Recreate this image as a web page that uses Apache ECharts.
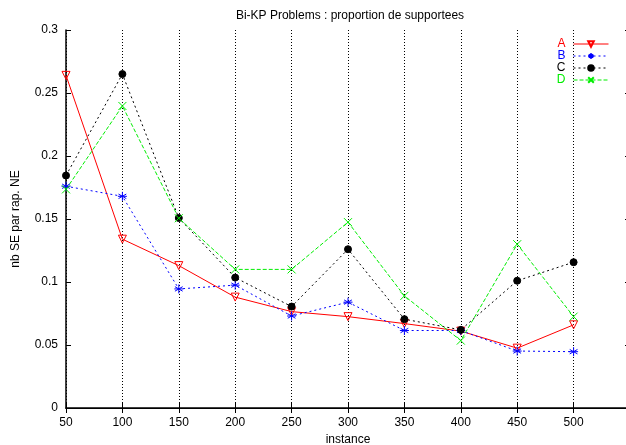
<!DOCTYPE html>
<html>
<head>
<meta charset="utf-8">
<title>Bi-KP Problems</title>
<script src="https://cdn.jsdelivr.net/npm/echarts@6/dist/echarts.min.js"></script>
<style>
  html, body { margin: 0; padding: 0; background: #fff; }
  #main { width: 626px; height: 445px; }
</style>
</head>
<body>
<div id="main"></div>
<script>
// values
var instances = [50, 100, 150, 200, 250, 300, 350, 400, 450, 500];
var serieA = [0.264, 0.134, 0.113, 0.088, 0.0765, 0.0725, 0.067, 0.061, 0.0475, 0.066];
var serieB = [0.176, 0.168, 0.0945, 0.0975, 0.073, 0.084, 0.0615, 0.0615, 0.0452, 0.0447];
var serieC = [0.1845, 0.265, 0.1508, 0.1035, 0.0805, 0.126, 0.0705, 0.062, 0.101, 0.1157];
var serieD = [0.1735, 0.2397, 0.1506, 0.110, 0.110, 0.1475, 0.089, 0.0535, 0.13, 0.0725];

var FONT = '"Liberation Sans", Arial, sans-serif';
var ASTER = 'path://M0,-5L0,5M-4.3,-2.5L4.3,2.5M-4.3,2.5L4.3,-2.5M-5,0L5,0';
var CROSS = 'path://M-4,-4L4,4M-4,4L4,-4';

function pairs(vals) {
  return instances.map(function (x, i) { return [x, vals[i]]; });
}

function mkSerie(name, vals, color, dash, symbol, size, fill) {
  return {
    name: name,
    type: 'line',
    data: pairs(vals),
    color: color,
    symbol: symbol,
    symbolSize: size,
    symbolRotate: symbol === 'triangle' ? 180 : 0,
    showAllSymbol: true,
    animation: false,
    lineStyle: { color: color, width: 1, type: dash },
    itemStyle: { color: fill, borderColor: color, borderWidth: 1 },
    emphasis: { disabled: true }
  };
}

var echart = echarts.init(document.getElementById('main'));

var option = {
  backgroundColor: '#fff',
  animation: false,
  textStyle: { fontFamily: FONT },
  title: {
    text: 'Bi-KP Problems : proportion de supportees',
    left: 345,
    textAlign: 'center',
    top: 5,
    textStyle: { fontFamily: FONT, fontSize: 12, fontWeight: 'normal', color: '#000' }
  },
  legend: {
    orient: 'vertical',
    right: 12,
    top: 33,
    align: 'right',
    itemWidth: 35,
    itemHeight: 7,
    itemGap: 0,
    lineStyle: { width: 1 },
    textStyle: { fontFamily: FONT, fontSize: 12, lineHeight: 12, padding: [0, 3, 0, 0] },
    data: [
      { name: 'A', textStyle: { color: '#ff0000' } },
      { name: 'B', textStyle: { color: '#0000ff' } },
      { name: 'C', textStyle: { color: '#000000' } },
      { name: 'D', textStyle: { color: '#00ee00' } }
    ]
  },
  grid: { left: 66, top: 30, width: 564, height: 378, outerBoundsMode: 'none', containLabel: false },
  xAxis: [{
    type: 'value',
    min: 50,
    max: 550,
    interval: 50,
    name: 'instance',
    nameLocation: 'middle',
    nameGap: 24,
    nameTextStyle: { fontFamily: FONT, fontSize: 12, color: '#000' },
    axisLine: { lineStyle: { color: '#000', width: 1.5 } },
    axisTick: { inside: true, length: 5, lineStyle: { color: '#000' } },
    axisLabel: { color: '#000', fontSize: 12, margin: 9, showMaxLabel: false },
    splitLine: { show: true, lineStyle: { color: '#000', width: 1, type: [1, 2] } }
  }, {
    type: 'value',
    position: 'top',
    min: 50,
    max: 550,
    interval: 50,
    axisLine: { lineStyle: { color: '#000', width: 1 } },
    axisTick: { inside: true, length: 5, lineStyle: { color: '#000' } },
    axisLabel: { show: false },
    splitLine: { show: false }
  }],
  yAxis: [{
    type: 'value',
    min: 0,
    max: 0.3,
    interval: 0.05,
    name: 'nb SE par rap. NE',
    nameLocation: 'middle',
    nameGap: 44,
    nameTextStyle: { fontFamily: FONT, fontSize: 12, color: '#000' },
    axisLine: { show: true, lineStyle: { color: '#000', width: 1.5 } },
    axisTick: { show: true, inside: true, length: 5, lineStyle: { color: '#000' } },
    axisLabel: { color: '#000', fontSize: 12, margin: 8 },
    splitLine: { show: false }
  }, {
    type: 'value',
    position: 'right',
    min: 0,
    max: 0.3,
    interval: 0.05,
    axisLine: { show: true, lineStyle: { color: '#000', width: 1 } },
    axisTick: { show: true, inside: true, length: 5, lineStyle: { color: '#000' } },
    axisLabel: { show: false },
    splitLine: { show: false }
  }],
  series: [
    mkSerie('A', serieA, '#ff0000', 'solid', 'triangle', 8, 'rgba(255,255,255,0)'),
    mkSerie('B', serieB, '#0000ff', [2, 3], ASTER, 9, '#0000ff'),
    mkSerie('C', serieC, '#000000', [2, 3], 'circle', 7, '#000000'),
    mkSerie('D', serieD, '#00ee00', [4, 2], CROSS, 8, '#00ee00')
  ]
};

echart.setOption(option);
</script>
</body>
</html>
